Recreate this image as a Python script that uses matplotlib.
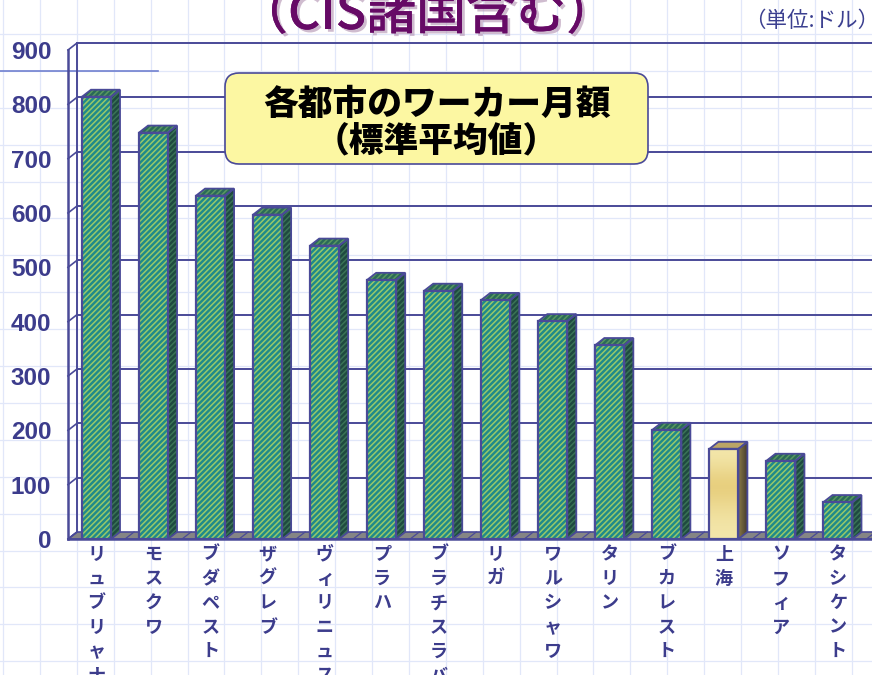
import numpy as np
import matplotlib.pyplot as plt
from matplotlib.patches import Polygon, FancyBboxPatch
import matplotlib.patheffects as pe

#---------------- data ----------------
cities = ['リュブリャナ', 'モスクワ', 'ブダペスト', 'ザグレブ', 'ヴィリニュス', 'プラハ', 'ブラチスラバ',
          'リガ', 'ワルシャワ', 'タリン', 'ブカレスト', '上海', 'ソフィア', 'タシケント']
wages = [814, 748, 632, 597, 540, 477, 457, 440, 401, 357, 201, 166, 144, 68]
yticks = [0, 100, 200, 300, 400, 500, 600, 700, 800, 900]
highlight = '上海'

title = '（CIS諸国含む）'
unit = '（単位:ドル）'
box_text = ['各都市のワーカー月額', '（標準平均値）']

#---------------- style ----------------
JP = ['Noto Sans CJK JP', 'DejaVu Sans']
NAVY = '#3c3c8c'
LINE = '#4a4a98'
W, H = 872, 675

fig = plt.figure(figsize=(W / 100, H / 100), dpi=100)

# graph paper background (pixel coords)
bg = fig.add_axes([0, 0, 1, 1], zorder=0)
bg.set_xlim(0, W)
bg.set_ylim(H, 0)
bg.axis('off')
for gx in np.arange(3, W, 36.9):
    bg.axvline(gx, color='#e1e7f9', lw=0.9)
for gy in np.arange(-3, H, 36.9):
    bg.axhline(gy, color='#e1e7f9', lw=0.9)
bg.plot([0, 158], [71, 71], color='#7080d0', lw=1.2)
bg.text(427, 29, title, ha='center', va='baseline', fontsize=36, fontweight='medium', color='#660a66',
        family=JP, path_effects=[pe.withSimplePatchShadow(offset=(2, -2), shadow_rgbFace='#b090b0', alpha=0.6),
                                 pe.Normal()])
bg.text(879, 21, unit, ha='right', va='center', fontsize=15.5, color='#3c4090', family=JP)

# main chart
ax = fig.add_axes([68 / W, (H - 539) / H, (866.5 - 68) / W, 489 / H], zorder=1)
ax.patch.set_alpha(0)
for s in ax.spines.values():
    s.set_visible(False)
ax.set_xlim(-0.5, 13.5)
ax.set_ylim(0, 900)

DX = 9 / 57.04
DY = 7 * 900 / 489
XR = 14.3
x = np.arange(len(cities))
bw = 29 / 57.04

# floor
ax.add_patch(Polygon([(-0.5, 0), (XR, 0), (XR + DX, DY), (-0.5 + DX, DY)], closed=True,
                     fc='#858585', ec=LINE, lw=1.2, zorder=1, clip_on=False))
for b in np.arange(-0.5, 14, 0.5):
    ax.plot([b, b + DX], [0, DY], color=LINE, lw=0.9, zorder=1, clip_on=False)

# walls and grid
for v in yticks[1:]:
    ax.plot([-0.5 + DX, XR + DX], [v + DY, v + DY], color=LINE, lw=1.4, zorder=1, clip_on=False)
for v in yticks:
    ax.plot([-0.5, -0.5 + DX], [v, v + DY], color=LINE, lw=1.2, zorder=1, clip_on=False)
ax.plot([-0.5 + DX, -0.5 + DX], [DY, 900 + DY], color=LINE, lw=1.4, zorder=1, clip_on=False)
ax.plot([-0.5, -0.5], [0, 900], color=LINE, lw=1.8, zorder=1, clip_on=False)
ax.plot([-0.5, XR], [0, 0], color=LINE, lw=1.8, zorder=1, clip_on=False)

# bars
plt.rcParams['hatch.linewidth'] = 1.1
green = [c != highlight for c in cities]
vals_g = [w if g else 0 for w, g in zip(wages, green)]
ax.bar(x, vals_g, width=bw, color='#1f8a8a', edgecolor='#98c868', hatch='//////', lw=0, zorder=3)
for i, (c, v) in enumerate(zip(cities, wages)):
    x0, x1 = i - bw / 2, i + bw / 2
    top = [(x0, v), (x1, v), (x1 + DX, v + DY), (x0 + DX, v + DY)]
    side = [(x1, 0), (x1, v), (x1 + DX, v + DY), (x1 + DX, DY)]
    if c == highlight:
        grad = np.array([0.0, 0.5, 1.0, 0.6, 0.2, 0.0])[:, None]
        cmap = plt.matplotlib.colors.LinearSegmentedColormap.from_list('y', ['#f3e6aa', '#e6cc78'])
        ax.imshow(grad, cmap=cmap, extent=[x0, x1, 0, v], aspect='auto', zorder=3, interpolation='bicubic')
        cmap2 = plt.matplotlib.colors.LinearSegmentedColormap.from_list('b', ['#8a7a46', '#4a4030'])
        im = ax.imshow(np.linspace(0, 1, 20)[None, :], cmap=cmap2, extent=[x1, x1 + DX, 0, v + DY],
                       aspect='auto', zorder=3)
        sp = Polygon(side, closed=True, fc='none', ec='none', transform=ax.transData)
        ax.add_patch(sp)
        im.set_clip_path(sp)
        ax.add_patch(Polygon(top, closed=True, fc='#bba566', ec=LINE, lw=1.3, zorder=4))
    else:
        ax.add_patch(Polygon(side, closed=True, fc='#1f4a40', ec='#3a7456', hatch='//////', lw=0, zorder=3))
        ax.add_patch(Polygon(top, closed=True, fc='#2a6a58', ec='#5a9860', hatch='//////', lw=0, zorder=3))
        ax.add_patch(Polygon(top, closed=True, fill=False, ec=LINE, lw=1.3, zorder=4))
    ax.add_patch(Polygon(side, closed=True, fill=False, ec=LINE, lw=1.3, zorder=4))
ax.bar(x, wages, width=bw, fill=False, edgecolor=LINE, lw=1.6, zorder=4)
ax.set_xlim(-0.5, 13.5)
ax.set_ylim(0, 900)

# ticks
ax.set_yticks(yticks)
ax.set_yticklabels([str(v) for v in yticks], fontsize=17.5, fontweight='bold', color=NAVY,
                   family='Liberation Sans')
ax.set_xticks(x)
ax.set_xticklabels(['\n'.join(c) for c in cities], fontsize=13, fontweight='bold', color=NAVY,
                   family=JP, va='top', linespacing=1.36)
ax.tick_params(axis='y', length=0, pad=12)
ax.tick_params(axis='x', length=0, pad=4)

# annotation box
ov = fig.add_axes([0, 0, 1, 1], zorder=5)
ov.set_xlim(0, W)
ov.set_ylim(H, 0)
ov.axis('off')
ov.add_patch(FancyBboxPatch((225, 73), 423, 91, boxstyle='round,pad=0,rounding_size=14',
                            fc='#fcf7a2', ec=LINE, lw=1.2))
ov.text(437, 104, box_text[0], ha='center', va='center', fontsize=25, fontweight='heavy',
        color='black', family=JP)
ov.text(436, 142, box_text[1], ha='center', va='center', fontsize=25, fontweight='heavy',
        color='black', family=JP)

fig.savefig('out.png', dpi=100)
